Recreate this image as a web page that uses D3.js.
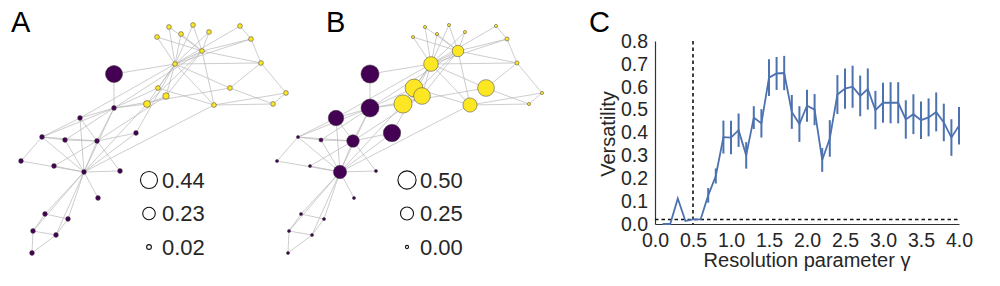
<!DOCTYPE html>
<html>
<head>
<meta charset="utf-8">
<script src="https://cdn.jsdelivr.net/npm/d3@7"></script>
<style>
  body { margin: 0; background: #fff; }
  svg { display: block; font-family: "Liberation Sans", Arial, sans-serif; }
</style>
</head>
<body>
<div id="chart"></div>
<script>
// Karate club network, same layout drawn twice (A, B) + versatility curve (C)

// layout coordinates of nodes 1..34 (layout units)
const nodeX = [84, 97, 114, 42, 45, 56, 33, 65, 147, 114, 68, 98, 21, 80, 157, 169, 32,
               54, 181, 136, 193, 120, 209, 261, 273, 286, 240, 230, 158, 251, 166, 214, 202, 175];
const nodeY = [172, 141, 108, 137, 214, 235, 231, 140, 104, 74, 219, 198, 161, 118, 37, 27, 253,
               166, 34, 133, 25, 171, 32, 63, 104, 93, 26, 88, 88, 39, 96, 105, 51, 64];
// community per node (0 = purple, 1 = yellow)
const community = [0, 0, 0, 0, 0, 0, 0, 0, 1, 0, 0, 0, 0, 0, 1, 1, 0,
                   0, 1, 0, 1, 0, 1, 1, 1, 1, 1, 1, 1, 1, 1, 1, 1, 1];
// node versatility for the two panels
const versA = [0.02, 0.02, 0.02, 0.02, 0.02, 0.02, 0.02, 0.02, 0.06, 0.44, 0.02, 0.02, 0.02, 0.02, 0.02, 0.02, 0.02,
               0.02, 0.02, 0.02, 0.02, 0.02, 0.02, 0.02, 0.02, 0.02, 0.02, 0.02, 0.02, 0.02, 0.05, 0.02, 0.02, 0.02];
const versB = [0.26, 0.23, 0.49, 0.0, 0.0, 0.0, 0.0, 0.01, 0.50, 0.50, 0.0, 0.0, 0.0, 0.36, 0.0, 0.0, 0.0,
               0.0, 0.0, 0.46, 0.0, 0.0, 0.0, 0.01, 0.0, 0.0, 0.0, 0.42, 0.48, 0.01, 0.42, 0.30, 0.19, 0.32];
const edges = [
  [1,2],[1,3],[1,4],[1,5],[1,6],[1,7],[1,8],[1,9],[1,11],[1,12],[1,13],[1,14],[1,18],[1,20],[1,22],[1,32],
  [2,3],[2,4],[2,8],[2,14],[2,18],[2,20],[2,22],[2,31],
  [3,4],[3,8],[3,9],[3,10],[3,14],[3,28],[3,29],[3,33],
  [4,8],[4,13],[4,14],[5,7],[5,11],[6,7],[6,11],[6,17],[7,17],
  [9,31],[9,33],[9,34],[10,34],[14,34],
  [15,33],[15,34],[16,33],[16,34],[19,33],[19,34],[20,34],[21,33],[21,34],[23,33],[23,34],
  [24,26],[24,28],[24,30],[24,33],[24,34],[25,26],[25,28],[25,32],[26,32],
  [27,30],[27,34],[28,34],[29,32],[29,34],[30,33],[30,34],[31,33],[31,34],[32,33],[32,34],[33,34]
];
const legendA = [0.44, 0.23, 0.02];
const legendB = [0.50, 0.25, 0.00];

// panel C
const gamma = [0.1, 0.2, 0.3, 0.4, 0.5, 0.6, 0.7, 0.8, 0.9, 1.0, 1.1, 1.2, 1.3, 1.4, 1.5, 1.6, 1.7, 1.8, 1.9, 2.0,
               2.1, 2.2, 2.3, 2.4, 2.5, 2.6, 2.7, 2.8, 2.9, 3.0, 3.1, 3.2, 3.3, 3.4, 3.5, 3.6, 3.7, 3.8, 3.9, 4.0];
const meanVers = [0.0, 0.0, 0.112, 0.013, 0.02, 0.02, 0.125, 0.21, 0.38, 0.378, 0.41, 0.30, 0.465, 0.44, 0.64, 0.658,
                  0.66, 0.49, 0.437, 0.517, 0.50, 0.28, 0.374, 0.566, 0.592, 0.60, 0.56, 0.59, 0.498, 0.53,
                  0.53, 0.53, 0.457, 0.48, 0.454, 0.466, 0.49, 0.444, 0.378, 0.43];
const errVers = [0, 0, 0, 0, 0, 0, 0.032, 0.033, 0.072, 0.073, 0.073, 0.058, 0.05, 0.062, 0.08, 0.072,
                 0.075, 0.074, 0.078, 0.07, 0.068, 0.052, 0.08, 0.085, 0.088, 0.092, 0.089, 0.09, 0.084, 0.087,
                 0.09, 0.09, 0.084, 0.087, 0.082, 0.083, 0.085, 0.082, 0.08, 0.082];
const xTicks = [0, 0.5, 1, 1.5, 2, 2.5, 3, 3.5, 4];
const yTicks = [0, 0.1, 0.2, 0.3, 0.4, 0.5, 0.6, 0.7, 0.8];
const gammaLine = 0.5;
const versLine = 0.02;

const width = 1000, height = 286;
const textColor = '#262626';
const colors = ['#440154', '#fde725'];

const svg = d3.select('#chart').append('svg')
    .attr('width', width)
    .attr('height', height);

// node size: area grows linearly with versatility
const area = d3.scaleLinear().domain([0, 0.5]).range([2.5, 82.5]);
const radius = v => Math.sqrt(area(v));

const nodes = nodeX.map((x, i) => ({id: i + 1, x: x, y: nodeY[i], c: community[i]}));

function drawNetwork(offsetX, values, legendVals, legendX, label, labelX) {
    const g = svg.append('g');
    const xs = d3.scaleLinear().domain(d3.extent(nodeX)).range(d3.extent(nodeX).map(d => d + offsetX));
    const ys = d3.scaleLinear().domain(d3.extent(nodeY)).range(d3.extent(nodeY));

    g.append('g')
        .selectAll('line')
        .data(edges)
        .join('line')
        .attr('x1', d => xs(nodeX[d[0] - 1]))
        .attr('y1', d => ys(nodeY[d[0] - 1]))
        .attr('x2', d => xs(nodeX[d[1] - 1]))
        .attr('y2', d => ys(nodeY[d[1] - 1]))
        .attr('stroke', '#b8b8b8')
        .attr('stroke-width', 0.7);

    g.append('g')
        .selectAll('circle')
        .data(nodes)
        .join('circle')
        .attr('cx', d => xs(d.x))
        .attr('cy', d => ys(d.y))
        .attr('r', d => radius(values[d.id - 1]))
        .attr('fill', d => colors[d.c])
        .attr('stroke', '#3a3a3a')
        .attr('stroke-width', 0.5);

    // size legend
    const ly = d3.scalePoint().domain(legendVals).range([180, 247]);
    const leg = g.append('g');
    leg.selectAll('circle')
        .data(legendVals)
        .join('circle')
        .attr('cx', legendX)
        .attr('cy', d => ly(d))
        .attr('r', d => radius(d))
        .attr('fill', 'none')
        .attr('stroke', '#111')
        .attr('stroke-width', 1.1);
    leg.selectAll('text')
        .data(legendVals)
        .join('text')
        .attr('x', legendX + 13)
        .attr('y', d => ly(d) + 7.5)
        .attr('font-size', 22)
        .attr('fill', textColor)
        .text(d3.format('.2f'));

    svg.append('text')
        .attr('x', labelX)
        .attr('y', 32)
        .attr('font-size', 29)
        .attr('fill', '#000')
        .text(label);
}

drawNetwork(0, versA, legendA, 149, 'A', 11);
drawNetwork(256, versB, legendB, 407, 'B', 326);

// ---- panel C ----
const x = d3.scaleLinear().domain([0, 4]).range([655, 959]);
const y = d3.scaleLinear().domain([0, 0.8]).range([224, 41]);
const blue = '#4c72b0';

svg.append('text')
    .attr('x', 589)
    .attr('y', 32)
    .attr('font-size', 29)
    .attr('fill', '#000')
    .text('C');

const xAxis = svg.append('g')
    .attr('transform', `translate(0,${y(0)})`)
    .call(d3.axisBottom(x).tickValues(xTicks).tickFormat(d3.format('.1f')).tickSize(0).tickPadding(9));
const yAxis = svg.append('g')
    .attr('transform', `translate(${x(0)},0)`)
    .call(d3.axisLeft(y).tickValues(yTicks).tickFormat(d3.format('.1f')).tickSize(0).tickPadding(7));

[xAxis, yAxis].forEach(a => {
    a.select('.domain').attr('stroke', '#333').attr('stroke-width', 1.2);
    a.selectAll('text')
        .attr('font-size', 19.5)
        .attr('font-family', '"Liberation Sans", Arial, sans-serif')
        .attr('fill', textColor);
});

// reference lines
svg.append('line')
    .attr('x1', x(gammaLine)).attr('x2', x(gammaLine))
    .attr('y1', y(0.8)).attr('y2', y(0))
    .attr('stroke', '#111').attr('stroke-width', 1.6)
    .attr('stroke-dasharray', '3.5,3');
svg.append('line')
    .attr('x1', x(0)).attr('x2', x(4))
    .attr('y1', y(versLine)).attr('y2', y(versLine))
    .attr('stroke', '#111').attr('stroke-width', 1.6)
    .attr('stroke-dasharray', '3.5,3');

const series = gamma.map((g, i) => ({g: g, m: meanVers[i], e: errVers[i]}));

svg.append('path')
    .datum(series)
    .attr('fill', 'none')
    .attr('stroke', blue)
    .attr('stroke-width', 1.8)
    .attr('d', d3.line().x(d => x(d.g)).y(d => y(d.m)));

svg.append('g')
    .selectAll('line')
    .data(series.filter(d => d.e > 0))
    .join('line')
    .attr('x1', d => x(d.g)).attr('x2', d => x(d.g))
    .attr('y1', d => y(d.m - d.e)).attr('y2', d => y(d.m + d.e))
    .attr('stroke', blue)
    .attr('stroke-width', 2);

svg.append('text')
    .attr('x', 807)
    .attr('y', 267)
    .attr('text-anchor', 'middle')
    .attr('font-size', 20)
    .attr('fill', textColor)
    .text('Resolution parameter γ');

svg.append('text')
    .attr('transform', 'translate(615,134) rotate(-90)')
    .attr('text-anchor', 'middle')
    .attr('font-size', 20)
    .attr('fill', textColor)
    .text('Versatility');
</script>
</body>
</html>
